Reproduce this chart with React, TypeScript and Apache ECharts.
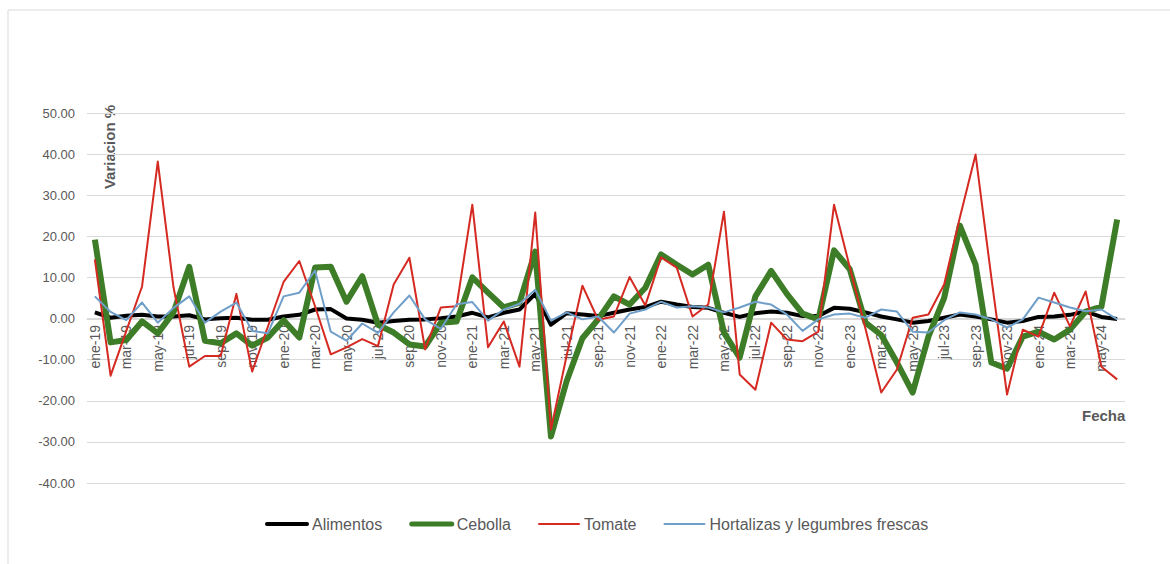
import React, { useEffect, useRef } from "react";
import * as echarts from "echarts";

const months = ["ene", "feb", "mar", "abr", "may", "jun", "jul", "ago", "sep", "oct", "nov", "dic"];
const years = ["19", "20", "21", "22", "23", "24"];
const categories: string[] = [];
for (const y of years) for (const m of months) categories.push(`${m}-${y}`);
categories.splice(66);

const alimentos = [
  1.5, 0.2, 0.7, 0.9, 0.5, 0.5, 0.8, -0.2, 0.1, 0.2, -0.3, -0.3,
  0.5, 0.9, 2.2, 2.3, 0.0, -0.3, -1.0, -0.6, -0.3, -0.2, 0.1, 0.5,
  1.4, 0.3, 1.4, 2.2, 6.0, -1.5, 1.3, 1.0, 0.6, 1.4, 2.2, 2.8,
  4.1, 3.4, 2.8, 2.6, 1.4, 0.4, 1.3, 1.7, 1.4, 0.6, 0.6, 2.6,
  2.4, 1.5, 0.5, -0.2, -1.0, -0.6, 0.2, 1.0, 0.5, -0.2, -1.0, -0.6,
  0.4, 0.5, 0.9, 1.7, 0.4, -0.1,
];

const cebolla = [
  19.2, -5.8, -5.2, -0.7, -3.6, 1.5, 12.6, -5.4, -6.0, -3.6, -6.6, -4.6,
  -0.4, -4.6, 12.4, 12.6, 4.1, 10.3, -1.5, -3.4, -6.3, -6.8, -1.0, -0.7,
  10.0, 6.3, 2.7, 3.9, 16.3, -28.7, -15.2, -4.8, -0.2, 5.4, 3.4, 7.5,
  15.6, 13.1, 10.7, 13.1, -3.4, -9.5, 5.4, 11.6, 6.0, 1.2, -0.2, 16.6,
  12.0, -1.0, -4.0, -10.7, -18.0, -4.4, 5.0, 22.6, 13.1, -10.7, -12.2, -4.4,
  -3.2, -5.1, -2.7, 1.7, 2.9, 24.1,
];

const tomate = [
  14.4, -13.9, -3.0, 7.8, 38.2, 7.6, -11.7, -9.1, -9.1, 6.0, -12.9, -2.0,
  8.9, 14.0, 3.0, -8.7, -7.0, -5.0, -6.7, 8.3, 14.8, -7.5, 2.7, 3.0,
  27.7, -7.0, -0.7, -11.7, 25.8, -27.0, -9.0, 8.0, -0.3, 0.5, 10.1, 3.2,
  14.9, 12.4, 0.5, 3.4, 26.0, -13.6, -17.3, -1.0, -5.1, -5.5, -3.2, 27.7,
  12.5, -2.5, -18.0, -12.4, 0.2, 1.0, 8.3, 24.6, 39.9, 10.0, -18.5, -2.7,
  -4.4, 6.3, -1.9, 6.6, -11.7, -14.8,
];

const hortalizas = [
  5.4, 1.6, -0.4, 3.9, -1.0, 2.6, 5.4, -1.0, 1.7, 3.9, -3.0, -3.6,
  5.4, 6.3, 11.7, -3.2, -5.4, -1.2, -3.5, 1.5, 5.6, -0.2, -2.5, 3.5,
  4.0, -0.5, 2.2, 3.6, 7.0, -0.5, 1.5, -0.2, 0.5, -3.4, 1.2, 2.2,
  4.1, 2.7, 3.0, 2.7, 1.5, 2.7, 4.1, 3.4, 1.0, -3.0, -0.2, 1.0,
  1.2, 0.2, 2.2, 1.7, -3.2, -3.4, -0.4, 1.5, 1.0, -0.2, -2.2, -0.2,
  5.1, 3.9, 2.7, 1.8, 2.2, -0.2,
];

const seriesNames = ["Alimentos", "Cebolla", "Tomate", "Hortalizas y legumbres frescas"];
const seriesColors = ["#000000", "#3e7d27", "#d42a22", "#6f9fc9"];
const seriesWidths = [4, 6, 2, 2];
const legendWidths = [4, 5, 2, 2];
const seriesValues = [alimentos, cebolla, tomate, hortalizas];

const FONT = "'Liberation Sans', Arial, sans-serif";
const GRAY = "#595959";

export default function App() {
  const ref = useRef<HTMLDivElement>(null);

  useEffect(() => {
    if (!ref.current) return;
    const chart = echarts.init(ref.current, undefined, { renderer: "svg" });
    chart.setOption({
      animation: false,
      backgroundColor: "#ffffff",
      textStyle: { fontFamily: FONT },
      grid: { left: 87, right: 45, top: 113, bottom: 81, containLabel: false },
      legend: {
        left: 260,
        top: 511,
        itemWidth: 40,
        itemHeight: 14,
        itemGap: 27,
        textStyle: { fontSize: 16, color: GRAY, fontFamily: FONT },
        data: seriesNames.map((n, i) => ({
          name: n,
          lineStyle: { width: legendWidths[i], cap: "round", color: seriesColors[i] },
          itemStyle: { opacity: 0, color: "transparent", borderWidth: 0 },
        })),
      },
      xAxis: {
        type: "category",
        data: categories,
        boundaryGap: true,
        offset: -164,
        axisLine: { show: true, onZero: false, lineStyle: { color: "#d9d9d9", width: 1 } },
        axisTick: { show: false },
        axisLabel: {
          interval: 1,
          rotate: 90,
          fontSize: 14,
          color: GRAY,
          margin: 6,
          fontFamily: FONT,
        },
        splitLine: { show: false },
      },
      yAxis: {
        type: "value",
        min: -40,
        max: 50,
        interval: 10,
        axisLine: { show: false },
        axisTick: { show: false },
        axisLabel: {
          fontSize: 13,
          color: GRAY,
          margin: 12,
          fontFamily: FONT,
          formatter: (v: number) => v.toFixed(2),
        },
        splitLine: { lineStyle: { color: "#d9d9d9", width: 1 } },
      },
      graphic: [
        {
          type: "rect",
          shape: { x: 8, y: 10, width: 1300, height: 700 },
          style: { fill: "none", stroke: "#d9d9d9", lineWidth: 1 },
          silent: true,
          z: -1,
        },
        {
          type: "text",
          x: 109,
          y: 147,
          rotation: Math.PI / 2,
          style: {
            text: "Variacion %",
            fontSize: 15,
            fontWeight: "bold",
            fill: GRAY,
            fontFamily: FONT,
            align: "center",
            verticalAlign: "middle",
          },
        },
        {
          type: "text",
          x: 1082,
          y: 415,
          style: {
            text: "Fecha",
            fontSize: 15,
            fontWeight: "bold",
            fill: GRAY,
            fontFamily: FONT,
            align: "left",
            verticalAlign: "middle",
          },
        },
      ],
      series: seriesNames.map((n, i) => ({
        name: n,
        type: "line",
        data: seriesValues[i],
        showSymbol: false,
        symbol: "none",
        lineStyle: { color: seriesColors[i], width: seriesWidths[i], join: "round" },
        itemStyle: { color: seriesColors[i] },
      })),
    });
    return () => chart.dispose();
  }, []);

  return (
    <div
      ref={ref}
      style={{ position: "absolute", left: 0, top: 0, width: 1170, height: 564 }}
    />
  );
}
